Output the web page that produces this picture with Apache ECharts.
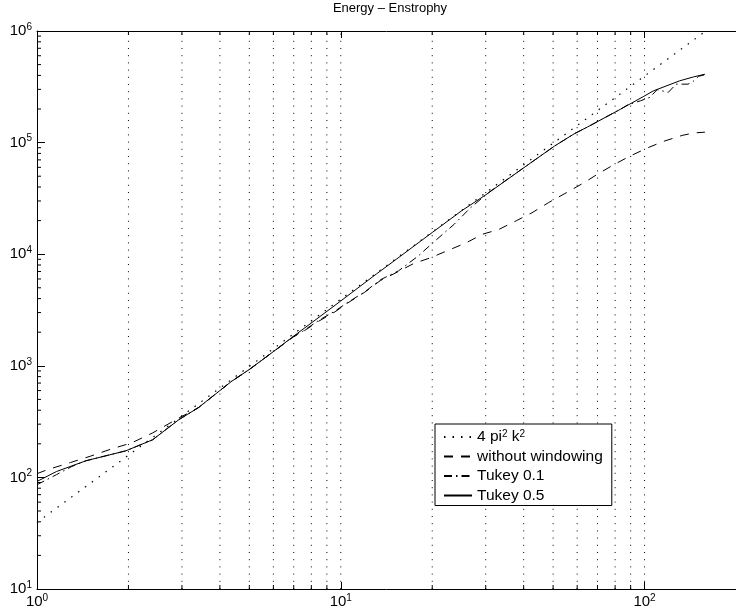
<!DOCTYPE html>
<html><head><meta charset="utf-8">
<script src="https://cdn.jsdelivr.net/npm/echarts@6/dist/echarts.min.js"></script>
<style>html,body{margin:0;padding:0;background:#fff}#c{width:736px;height:613px}</style>
</head><body><div id="c"></div>
<script>
const TITLE = 'Energy \u2013 Enstrophy';
const NAME_DOT = '4 pi^2 k^2';
const NAME_RAW = 'without windowing';
const NAME_T1 = 'Tukey 0.1';
const NAME_T5 = 'Tukey 0.5';

// 4 pi^2 k^2 reference line (straight on log-log), read at its ends
const kDot = [1, 156];
const eDot = [39.5, 961000];

// without windowing (dashed)
const kRaw = [1, 1.08, 1.29, 1.5, 1.76, 2.05, 2.4, 2.9, 3.4, 4.37, 5, 6, 7, 7.46, 8.46, 9.58, 10.46, 12, 13.5, 15.2, 17.4, 19.8, 22.7, 25.8, 29.3, 33.2, 37.9, 42.6, 48.3, 54.7, 63, 69.9, 79.3, 89.8, 103, 116, 133, 145, 158];
const eRaw = [108, 117, 136, 155, 180, 204, 250, 335, 422, 726, 927, 1340, 1820, 2000, 2510, 3050, 3610, 4570, 5800, 6820, 8260, 9320, 10900, 12600, 15100, 16700, 20000, 23500, 29000, 35000, 43500, 52000, 63500, 76000, 90400, 103000, 116000, 122000, 124000];

// Tukey 0.1 (dash-dot)
const kT1 = [1, 1.16, 1.3, 1.45, 1.96, 2.4, 2.93, 3.4, 4.37, 5, 6, 7, 7.46, 8.46, 9.58, 10.46, 12, 13.5, 15.5, 18, 20, 23.6, 26.7, 31, 40, 50.5, 58.7, 64.9, 83.3, 88, 97, 104, 110, 119.7, 127, 139, 144, 150.6, 158];
const eT1 = [86, 106, 125, 141, 173, 217, 329, 422, 726, 927, 1340, 1840, 2020, 2550, 3100, 3650, 4600, 5900, 7100, 9650, 12500, 18500, 26000, 36500, 59400, 93000, 120000, 138000, 199000, 218000, 237000, 254000, 298000, 282000, 334000, 334000, 350000, 393000, 405000];

// Tukey 0.5 (solid)
const kT5 = [1, 1.16, 1.45, 1.96, 2.4, 2.93, 3.4, 3.67, 4.37, 5, 6, 7, 8, 10, 13.1, 15.2, 20, 25, 30, 40, 50.5, 58.7, 64.9, 83.3, 99, 107, 130.6, 145, 158];
const eT5 = [92, 113, 141, 173, 217, 329, 422, 498, 726, 927, 1340, 1845, 2420, 3810, 6650, 8970, 15650, 24500, 34000, 59400, 93000, 120000, 138000, 199000, 258000, 291000, 358000, 388000, 410000];

// axes
const X_MIN = 1, X_MAX = 200, Y_MIN = 10, Y_MAX = 1000000;
const xMajorTicks = [1, 10, 100];
const xGridLines = [2, 3, 4, 5, 6, 7, 8, 9, 10, 20, 30, 40, 50, 60, 70, 80, 90, 100];
const yMinorTicks = [20, 30, 40, 50, 60, 70, 80, 90,
  200, 300, 400, 500, 600, 700, 800, 900,
  2000, 3000, 4000, 5000, 6000, 7000, 8000, 9000,
  20000, 30000, 40000, 50000, 60000, 70000, 80000, 90000,
  200000, 300000, 400000, 500000, 600000, 700000, 800000, 900000];

const FONT = 'Liberation Sans';
const zip = (a, b) => a.map((v, i) => [v, b[i]]);

function expLabel(v) {
  const e = Math.log10(v);
  const r = Math.round(e);
  if (Math.abs(e - r) > 1e-6) return '';
  return '{b|10}{s|' + r + '}';
}
const labelRich = {
  b: { fontSize: 15, fontFamily: FONT, color: '#000', lineHeight: 18 },
  s: { fontSize: 10, fontFamily: FONT, color: '#000', lineHeight: 8, verticalAlign: 'top' }
};

function renderXGrid(params, api) {
  const v = api.value(0);
  const b = api.coord([v, Y_MIN]);
  const t = api.coord([v, Y_MAX]);
  const children = [{
    type: 'line', shape: { x1: b[0], y1: b[1], x2: t[0], y2: t[1] },
    style: { stroke: '#000', lineWidth: 1, lineDash: [1, 6.2] }
  }];
  if (xMajorTicks.indexOf(v) < 0) {
    children.push({ type: 'line', shape: { x1: b[0], y1: b[1], x2: b[0], y2: b[1] - 4 }, style: { stroke: '#000', lineWidth: 1 } });
    children.push({ type: 'line', shape: { x1: t[0], y1: t[1], x2: t[0], y2: t[1] + 4 }, style: { stroke: '#000', lineWidth: 1 } });
  }
  return { type: 'group', children };
}
function renderYTicks(params, api) {
  const p = api.coord([X_MIN, api.value(1)]);
  return { type: 'line', shape: { x1: p[0], y1: p[1], x2: p[0] + 4, y2: p[1] }, style: { stroke: '#000', lineWidth: 1 } };
}

const axisLine = { show: true, lineStyle: { color: '#000', width: 1 } };
const chart = echarts.init(document.getElementById('c'), null, { renderer: 'canvas' });
chart.setOption({
  animation: false,
  backgroundColor: '#fff',
  title: {
    text: TITLE, left: 390, top: 2, padding: 0, textAlign: 'center',
    textStyle: { fontFamily: FONT, fontSize: 13, fontWeight: 'normal', color: '#000' }
  },
  grid: { left: 37, top: 31, width: 706.4, height: 558 },
  xAxis: [{
    type: 'log', logBase: 10, min: X_MIN, max: X_MAX, position: 'bottom',
    axisLine, splitLine: { show: false },
    axisTick: { inside: true, length: 7, lineStyle: { color: '#000' } },
    axisLabel: { formatter: expLabel, margin: 4, showMaxLabel: false, rich: labelRich }
  }, {
    type: 'log', logBase: 10, min: X_MIN, max: X_MAX, position: 'top',
    axisLine, splitLine: { show: false },
    axisTick: { inside: true, length: 7, lineStyle: { color: '#000' } },
    axisLabel: { show: false }
  }],
  yAxis: [{
    type: 'log', logBase: 10, min: Y_MIN, max: Y_MAX,
    axisLine, splitLine: { show: false },
    axisTick: { inside: true, length: 8, lineStyle: { color: '#000' } },
    axisLabel: { formatter: expLabel, margin: 5, rich: labelRich }
  }],
  legend: {
    data: [NAME_DOT, NAME_RAW, NAME_T1, NAME_T5],
    orient: 'vertical', left: 435, top: 424,
    backgroundColor: '#fff', borderColor: '#000', borderWidth: 1, borderRadius: 0,
    padding: [5, 9, 2, 8], itemGap: 3.5, itemWidth: 28, itemHeight: 2, itemTextGap: 8,
    itemStyle: { opacity: 0, borderWidth: 0 },
    selectedMode: false,
    formatter: n => n === NAME_DOT ? '{t|4 pi}{s|2}{t| k}{s|2}' : '{t|' + n + '}',
    textStyle: {
      color: '#000', fontFamily: FONT, fontSize: 15.5, lineHeight: 16,
      rich: {
        t: { fontSize: 15.5, fontFamily: FONT, color: '#000', lineHeight: 16 },
        s: { fontSize: 10, fontFamily: FONT, color: '#000', lineHeight: 8, verticalAlign: 'top' }
      }
    }
  },
  series: [
    { type: 'custom', renderItem: renderXGrid, data: xGridLines.map(v => [v, Y_MIN]), z: 1, silent: true, clip: false },
    { type: 'custom', renderItem: renderYTicks, data: yMinorTicks.map(v => [X_MIN, v]), z: 1, silent: true, clip: false },
    { name: NAME_DOT, type: 'line', data: zip(kDot, eDot), symbol: 'none', z: 3,
      itemStyle: { color: '#000' }, lineStyle: { color: '#000', width: 1.2, type: [1.5, 7] } },
    { name: NAME_RAW, type: 'line', data: zip(kRaw, eRaw), symbol: 'none', z: 3,
      itemStyle: { color: '#000' }, lineStyle: { color: '#000', width: 1, type: [9, 8] } },
    { name: NAME_T1, type: 'line', data: zip(kT1, eT1), symbol: 'none', z: 3,
      itemStyle: { color: '#000' }, lineStyle: { color: '#000', width: 1, type: [8, 4, 1.5, 4] } },
    { name: NAME_T5, type: 'line', data: zip(kT5, eT5), symbol: 'none', z: 4,
      itemStyle: { color: '#000' }, lineStyle: { color: '#000', width: 1 } }
  ]
});
</script>
</body></html>
